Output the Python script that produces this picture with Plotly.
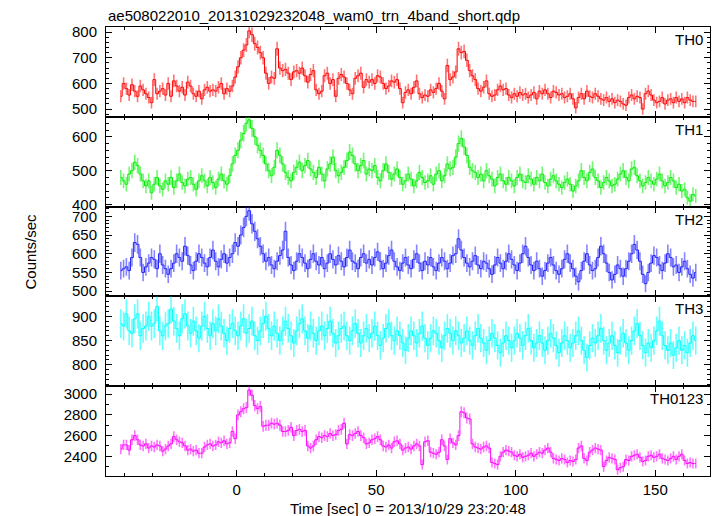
import numpy as np
import plotly.graph_objects as go
from plotly.subplots import make_subplots

# ---------------- data (1 s bins, centre times) ----------------
t_start = -41.5
n_bins = 207
time = [t_start + i for i in range(n_bins)]

th0 = [550, 600, 580, 555, 595, 570, 550, 590, 575, 560,
       545, 525, 615, 560, 570, 580, 555, 600, 550, 610,
       590, 570, 585, 555, 605, 590, 560, 550, 570, 540,
       575, 585, 570, 575, 570, 585, 600, 560, 580, 570,
       590, 625, 665, 700, 730, 750, 805, 790, 755, 740,
       720, 700, 640, 600, 625, 620, 735, 660, 650, 655,
       640, 615, 645, 650, 640, 660, 630, 605, 635, 650,
       575, 560, 570, 630, 640, 600, 615, 550, 620, 635,
       625, 600, 575, 560, 620, 630, 640, 585, 615, 605,
       615, 600, 630, 625, 600, 580, 590, 610, 605, 615,
       580, 525, 565, 575, 560, 585, 610, 560, 545, 555,
       550, 575, 565, 580, 600, 570, 540, 670, 615, 625,
       645, 735, 720, 725, 690, 650, 630, 615, 580, 570,
       585, 610, 560, 550, 555, 575, 590, 575, 580, 555,
       545, 560, 550, 565, 555, 560, 545, 555, 565, 540,
       570, 560, 575, 560, 545, 570, 565, 555, 560, 545,
       550, 560, 540, 505, 545, 560, 540, 570, 550, 545,
       560, 550, 540, 535, 545, 530, 540, 525, 535, 530,
       520, 515, 545, 555, 540, 550, 545, 500, 560, 570,
       555, 535, 525, 530, 545, 520, 535, 540, 525, 545,
       530, 540, 525, 545, 535, 530, 530]

th1 = [480, 470, 460, 490, 500, 525, 515, 490, 470, 455,
       470, 435, 460, 480, 455, 445, 470, 460, 480, 450,
       470, 490, 465, 455, 475, 480, 460, 445, 470, 485,
       470, 455, 480, 465, 450, 475, 490, 470, 460, 485,
       520, 545, 560, 590, 610, 640, 650, 625, 600, 575,
       560, 545, 520, 500, 485, 510, 560, 545, 520, 495,
       480, 470, 495, 510, 525, 500, 515, 530, 505, 495,
       480, 510, 490, 470, 505, 520, 540, 500, 485, 495,
       510, 530, 555, 545, 520, 500, 515, 530, 490, 505,
       500, 515, 480, 470, 500, 520, 495, 475, 490, 505,
       480, 460, 470, 490, 475, 455, 470, 495, 480, 465,
       470, 485, 460, 490, 500, 470, 485, 520, 505, 510,
       540, 580, 595, 570, 545, 510, 500, 495, 480, 490,
       470, 500, 485, 475, 455, 480, 490, 470, 460, 480,
       470, 455, 480, 490, 470, 465, 485, 475, 460, 480,
       470, 490, 465, 455, 475, 485, 470, 460, 450, 465,
       475, 460, 440, 455, 470, 500, 480, 470, 495, 505,
       480, 470, 450, 465, 480, 470, 455, 460, 475, 490,
       500, 480, 470, 505, 510, 485, 470, 455, 465, 480,
       470, 460, 475, 490, 470, 455, 465, 480, 470, 450,
       460, 440, 445, 420, 410, 430, 425]

th2 = [555, 560, 565, 555, 590, 630, 625, 590, 550, 565,
       575, 590, 585, 560, 600, 570, 560, 545, 560, 575,
       600, 590, 580, 620, 595, 570, 555, 580, 600, 590,
       575, 565, 590, 610, 580, 565, 585, 600, 575, 590,
       600, 630, 620, 650, 670, 700, 715, 680, 660, 640,
       620, 600, 580, 590, 570, 560, 580, 595, 610, 660,
       590, 570, 555, 580, 600, 590, 575, 560, 585, 600,
       580, 570, 590, 560, 575, 600, 585, 570, 595, 580,
       565, 590, 610, 580, 575, 560, 590, 600, 575, 585,
       570, 590, 605, 580, 560, 575, 595, 610, 580, 565,
       555, 575, 590, 570, 560, 585, 600, 575, 555, 580,
       570, 590, 565, 555, 575, 590, 580, 560, 575, 595,
       600, 640, 610, 590, 575, 565, 580, 595, 570, 560,
       580, 575, 560, 545, 570, 590, 575, 560, 580, 600,
       585, 570, 555, 575, 600, 620, 590, 570, 555, 580,
       560, 540, 555, 575, 590, 570, 555, 545, 560, 585,
       600, 575, 560, 540, 525, 555, 580, 600, 570, 555,
       560, 590, 620, 600, 575, 550, 530, 545, 570, 560,
       540, 560, 580, 600, 625, 610, 580, 545, 520, 550,
       575, 595, 590, 570, 555, 575, 600, 590, 565, 570,
       550, 565, 580, 560, 545, 535, 550]

th3 = [885, 880, 905, 870, 865, 895, 905, 860, 875, 880,
       900, 880, 885, 920, 870, 860, 880, 885, 915, 890,
       875, 860, 895, 905, 880, 865, 890, 870, 855, 880,
       900, 875, 860, 885, 870, 895, 880, 865, 850, 875,
       885, 870, 860, 880, 895, 865, 875, 890, 860, 850,
       870, 885, 900, 875, 860, 880, 865, 850, 870, 890,
       875, 860, 845, 870, 885, 895, 870, 855, 880, 865,
       850, 870, 880, 860, 875, 890, 865, 845, 860, 875,
       880, 860, 850, 870, 885, 865, 845, 860, 875, 855,
       865, 880, 860, 840, 855, 875, 885, 860, 850, 870,
       860, 845, 830, 855, 870, 860, 845, 865, 880, 855,
       840, 855, 870, 865, 850, 835, 860, 875, 865, 850,
       870, 860, 845, 855, 870, 850, 840, 860, 875, 855,
       845, 830, 850, 865, 855, 840, 825, 845, 860, 850,
       835, 850, 865, 855, 840, 860, 875, 850, 835, 845,
       860, 845, 830, 850, 865, 855, 840, 825, 845, 860,
       850, 835, 845, 860, 870, 850, 830, 815, 840, 855,
       845, 860, 875, 850, 830, 845, 860, 840, 825, 850,
       865, 845, 830, 850, 870, 885, 860, 840, 825, 845,
       835, 850, 870, 890, 860, 840, 830, 845, 820, 835,
       850, 830, 840, 825, 845, 860, 850]

th0123 = [2470, 2510, 2510, 2460, 2560, 2600, 2560, 2510, 2500, 2520,
          2480, 2500, 2490, 2510, 2500, 2450, 2470, 2500, 2520, 2590,
          2560, 2540, 2530, 2500, 2460, 2470, 2450, 2460, 2430, 2430,
          2490, 2510, 2520, 2500, 2510, 2540, 2530, 2550, 2520, 2530,
          2640, 2570, 2800, 2830, 2860, 2870, 3040, 2990, 2890, 2860,
          2880, 2690, 2700, 2700, 2720, 2710, 2720, 2700, 2640, 2640,
          2650, 2680, 2600, 2650, 2660, 2640, 2650, 2500, 2480, 2500,
          2560, 2590, 2580, 2600, 2590, 2620, 2600, 2610, 2650, 2660,
          2720, 2520, 2610, 2600, 2620, 2640,
          2600, 2580, 2520, 2530, 2560, 2570, 2590, 2560, 2500, 2490,
          2510, 2480, 2540, 2550, 2520, 2460, 2480, 2490, 2470, 2500,
          2520, 2500, 2320, 2540, 2550, 2440, 2430, 2420, 2440, 2560,
          2500, 2370, 2570, 2530, 2510, 2600, 2830, 2820, 2770, 2760,
          2520, 2490, 2480, 2470, 2490, 2500, 2480, 2340, 2330, 2320,
          2400, 2440, 2460, 2450, 2440, 2410, 2400, 2420, 2390, 2400,
          2410, 2430, 2400, 2420, 2440, 2430, 2460, 2480, 2440, 2380,
          2370, 2360, 2380, 2370, 2340, 2360, 2350, 2370, 2480, 2500,
          2380, 2360, 2440, 2460, 2480, 2470, 2460, 2300, 2360, 2390,
          2380, 2370, 2270, 2290, 2300, 2370, 2360, 2400, 2410, 2420,
          2390, 2350, 2360, 2400, 2410, 2390, 2400, 2420, 2380, 2370,
          2360, 2380, 2400, 2370, 2400, 2420, 2360, 2330, 2340, 2330,
          2330]

band_names = ["TH0", "TH1", "TH2", "TH3", "TH0123"]
series = [th0, th1, th2, th3, th0123]
colors = ["#ff0000", "#00ee00", "#2020ff", "#00ffff", "#ff00ff"]
err_colors = ["rgba(255,0,0,0.55)", "rgba(0,238,0,0.55)", "rgba(32,32,255,0.55)",
              "rgba(0,255,255,0.6)", "rgba(255,0,255,0.55)"]
y_ranges = [[470, 820], [394, 659], [486, 726], [756, 941], [2210, 3077]]
y_dticks = [100, 100, 50, 50, 200]
y_minor = [20, 20, 10, 10, 100]
x_range = [-46.8, 169.6]

FONT = "Liberation Sans, Arial, Helvetica, sans-serif"

fig = make_subplots(rows=5, cols=1, shared_xaxes=True, vertical_spacing=0)

for i, (name, vals, col) in enumerate(zip(band_names, series, colors)):
    v = np.array(vals, dtype=float)
    err = np.sqrt(v)  # Poisson error for 1 s bins
    fig.add_trace(go.Scatter(
        x=time, y=vals, mode="lines", line=dict(color=col, width=1, shape="hvh"),
        error_y=dict(type="data", array=err, visible=True, color=err_colors[i],
                     thickness=1.6, width=0),
        showlegend=False, name=name, hoverinfo="skip"), row=i + 1, col=1)

axis_common = dict(showline=True, linecolor="black", linewidth=1, mirror="allticks",
                   ticks="inside", ticklen=6, tickwidth=1, tickcolor="black",
                   showgrid=False, zeroline=False,
                   tickfont=dict(family=FONT, size=15, color="black"))

for i in range(5):
    fig.update_yaxes(range=y_ranges[i], dtick=y_dticks[i], tick0=0,
                     ticklabelstandoff=5,
                     minor=dict(ticks="inside", ticklen=3, dtick=y_minor[i], tick0=0,
                                tickcolor="black", showgrid=False),
                     **axis_common, row=i + 1, col=1)
    fig.update_xaxes(range=x_range, dtick=50, tick0=0,
                     minor=dict(ticks="inside", ticklen=3, dtick=10, tick0=0,
                                tickcolor="black", showgrid=False),
                     **axis_common, row=i + 1, col=1)

fig.update_layout(
    width=717, height=516,
    margin=dict(l=106, r=7, t=27, b=40),
    paper_bgcolor="white", plot_bgcolor="white",
    font=dict(family=FONT, size=15, color="black"),
)

annotations = [
    dict(text="ae508022010_20131029232048_wam0_trn_4band_short.qdp",
         xref="paper", yref="paper", x=0, y=1, xanchor="left", yanchor="bottom",
         yshift=1, showarrow=False, font=dict(family=FONT, size=15, color="black")),
    dict(text="Counts/sec", xref="paper", yref="paper", x=0, y=0.5,
         xanchor="center", yanchor="middle", xshift=-76, textangle=-90,
         showarrow=False, font=dict(family=FONT, size=15, color="black")),
    dict(text="Time [sec] 0 = 2013/10/29 23:20:48", xref="paper", yref="paper",
         x=0.5, y=0, xanchor="center", yanchor="top", yshift=-22,
         showarrow=False, font=dict(family=FONT, size=15, color="black")),
]
for i, name in enumerate(band_names):
    yax = fig.layout["yaxis" if i == 0 else f"yaxis{i + 1}"]
    top = yax.domain[1]
    annotations.append(dict(text=name, xref="paper", yref="paper", x=1, y=top,
                            xanchor="right", yanchor="top", xshift=-5, yshift=-2,
                            showarrow=False,
                            font=dict(family=FONT, size=15, color="black")))
fig.update_layout(annotations=annotations)

fig.write_html("out.html", config={"displayModeBar": False},
               post_script="document.body.style.margin='0';document.body.style.overflow='hidden';")
